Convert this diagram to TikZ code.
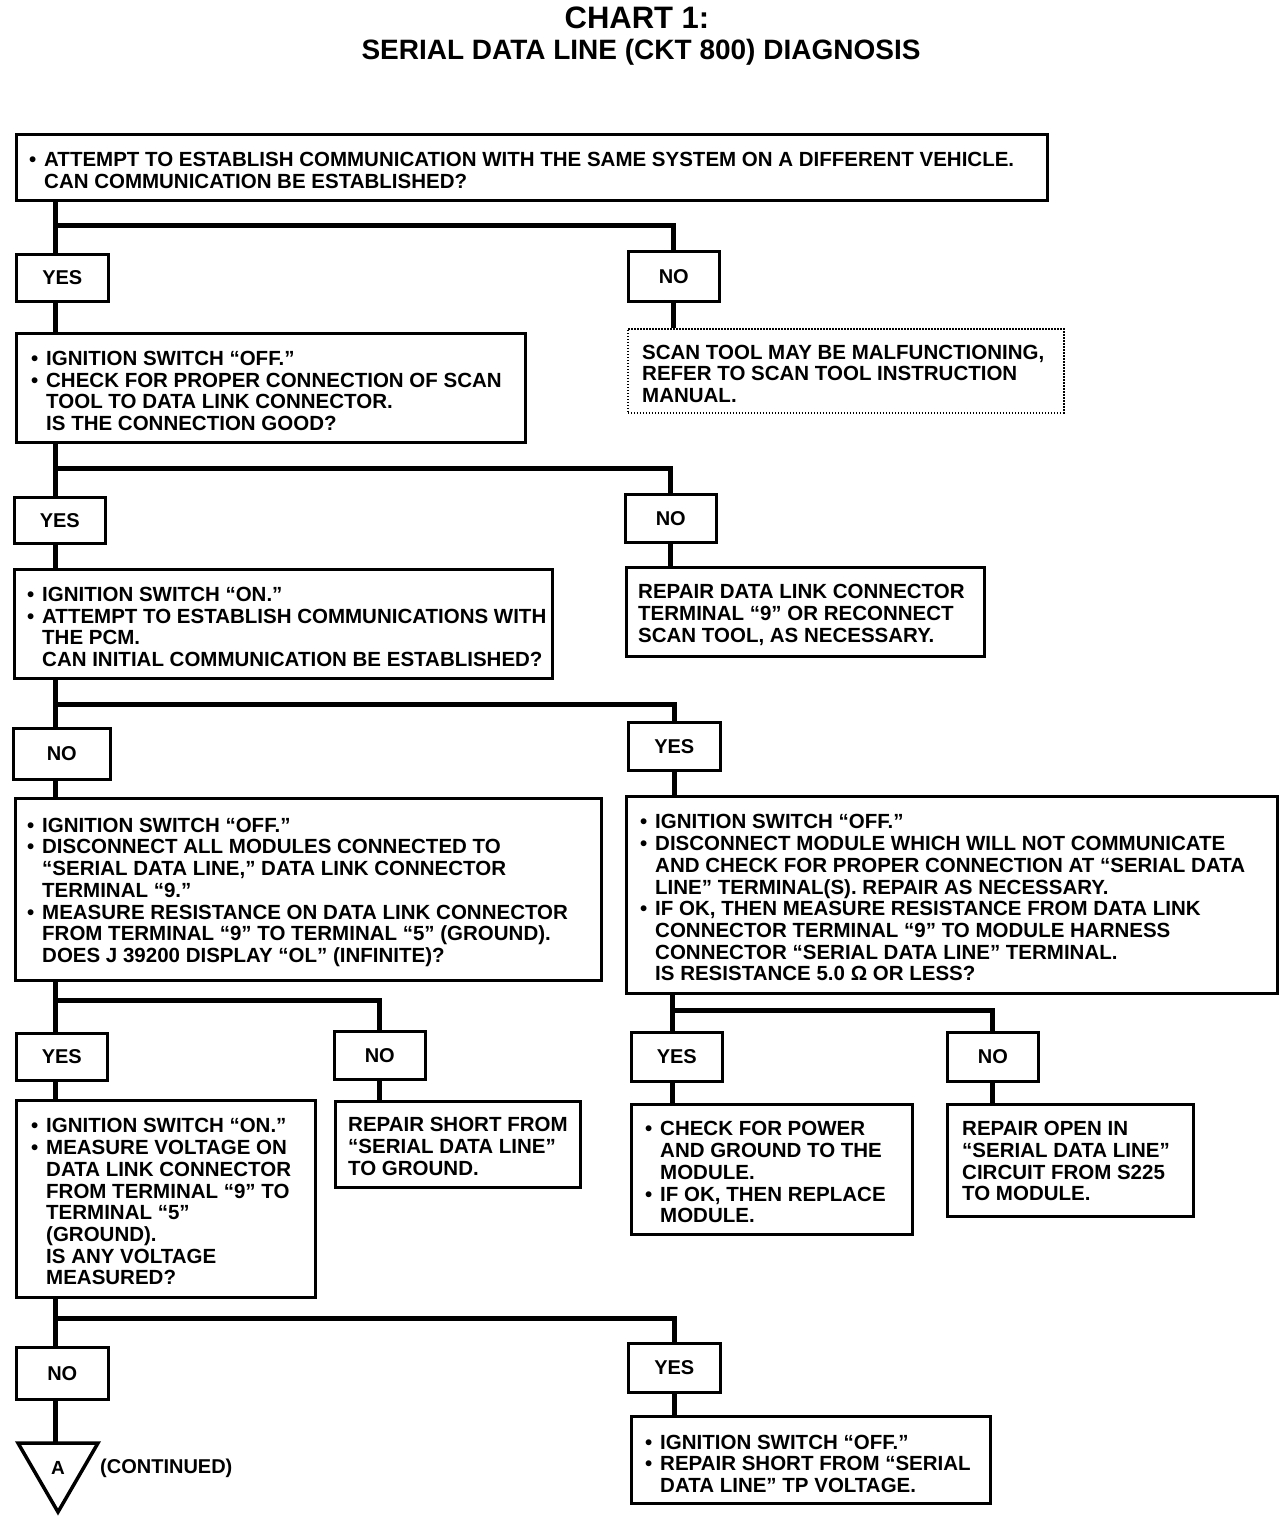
\documentclass[tikz,border=0pt]{standalone}
\usepackage{fontspec}
\setmainfont{Liberation Sans}
\usetikzlibrary{calc}
\newcommand\bl{\makebox[0pt][r]{\textbullet\hspace{8pt}}}
\begin{document}
\begin{tikzpicture}[x=1pt,y=-1pt,
  box/.style={draw, line width=2.6pt, anchor=north west, inner sep=0pt},
  lab/.style={box, font=\fontsize{20}{22}\selectfont\bfseries},
  tx/.style={anchor=west, align=left, inner sep=0pt, font=\fontsize{20.5}{21.7}\selectfont\bfseries},
  conn/.style={line width=5pt, line join=miter},
  dotbox/.style={draw, line width=1.5pt, dash pattern=on 1.6pt off 1.4pt, anchor=north west, inner sep=0pt},
  ttl/.style={inner sep=0pt, font=\bfseries}]
\useasboundingbox (0,0) rectangle (1280,1520);

% title
\node[ttl, font=\fontsize{31}{34}\selectfont\bfseries] (title1) at (637,18) {CHART 1:};
\node[ttl, font=\fontsize{28}{30}\selectfont\bfseries] (title2) at (641,52) {SERIAL DATA LINE (CKT 800) DIAGNOSIS};

% stage 1
\node[box, minimum width=1031pt, minimum height=66pt] (b1) at (15,133) {};
\node[tx] (t1) at ($(b1.west)+(29,3)$) {\bl ATTEMPT TO ESTABLISH COMMUNICATION WITH THE SAME SYSTEM ON A DIFFERENT VEHICLE.\\CAN COMMUNICATION BE ESTABLISHED?};
\node[lab, minimum width=92pt, minimum height=47pt] (y1) at (15,253) {YES};
\node[lab, minimum width=91pt, minimum height=50pt] (n1) at (627,250) {NO};
\node[dotbox, minimum width=436pt, minimum height=84pt] (d1) at (627,328) {};
\node[tx] (td1) at ($(d1.west)+(15,3)$) {SCAN TOOL MAY BE MALFUNCTIONING,\\REFER TO SCAN TOOL INSTRUCTION\\MANUAL.};

% stage 2
\node[box, minimum width=509pt, minimum height=109pt] (b2) at (15,332) {};
\node[tx] (t2) at ($(b2.west)+(31,3)$) {\bl IGNITION SWITCH “OFF.”\\\bl CHECK FOR PROPER CONNECTION OF SCAN\\TOOL TO DATA LINK CONNECTOR.\\IS THE CONNECTION GOOD?};
\node[lab, minimum width=91pt, minimum height=46pt] (y2) at (13,496) {YES};
\node[lab, minimum width=91pt, minimum height=48pt] (n2) at (624,493) {NO};
\node[box, minimum width=358pt, minimum height=89pt] (r2) at (625,566) {};
\node[tx] (tr2) at ($(r2.west)+(13,3)$) {REPAIR DATA LINK CONNECTOR\\TERMINAL “9” OR RECONNECT\\SCAN TOOL, AS NECESSARY.};

% stage 3
\node[box, minimum width=538pt, minimum height=109pt] (b3) at (13,568) {};
\node[tx] (t3) at ($(b3.west)+(29,3)$) {\bl IGNITION SWITCH “ON.”\\\bl ATTEMPT TO ESTABLISH COMMUNICATIONS WITH\\THE PCM.\\CAN INITIAL COMMUNICATION BE ESTABLISHED?};
\node[lab, minimum width=97pt, minimum height=51pt] (n3) at (12,727) {NO};
\node[lab, minimum width=92pt, minimum height=48pt] (y3) at (627,721) {YES};

% stage 4
\node[box, minimum width=586pt, minimum height=182pt] (b4) at (14,797) {};
\node[tx] (t4) at ($(b4.west)+(28,3)$) {\bl IGNITION SWITCH “OFF.”\\\bl DISCONNECT ALL MODULES CONNECTED TO\\“SERIAL DATA LINE,” DATA LINK CONNECTOR\\TERMINAL “9.”\\\bl MEASURE RESISTANCE ON DATA LINK CONNECTOR\\FROM TERMINAL “9” TO TERMINAL “5” (GROUND).\\DOES J 39200 DISPLAY “OL” (INFINITE)?};
\node[box, minimum width=651pt, minimum height=197pt] (b5) at (625,795) {};
\node[tx] (t5) at ($(b5.west)+(30,3)$) {\bl IGNITION SWITCH “OFF.”\\\bl DISCONNECT MODULE WHICH WILL NOT COMMUNICATE\\AND CHECK FOR PROPER CONNECTION AT “SERIAL DATA\\LINE” TERMINAL(S). REPAIR AS NECESSARY.\\\bl IF OK, THEN MEASURE RESISTANCE FROM DATA LINK\\CONNECTOR TERMINAL “9” TO MODULE HARNESS\\CONNECTOR “SERIAL DATA LINE” TERMINAL.\\IS RESISTANCE 5.0 Ω OR LESS?};

% stage 5 left
\node[lab, minimum width=91pt, minimum height=47pt] (y4) at (15,1032) {YES};
\node[lab, minimum width=91pt, minimum height=48pt] (n4) at (333,1030) {NO};
\node[box, minimum width=299pt, minimum height=197pt] (b6) at (15,1099) {};
\node[tx] (t6) at ($(b6.west)+(31,3)$) {\bl IGNITION SWITCH “ON.”\\\bl MEASURE VOLTAGE ON\\DATA LINK CONNECTOR\\FROM TERMINAL “9” TO\\TERMINAL “5”\\(GROUND).\\IS ANY VOLTAGE\\MEASURED?};
\node[box, minimum width=245pt, minimum height=86pt] (b7) at (334,1100) {};
\node[tx] (t7) at ($(b7.west)+(14,2)$) {REPAIR SHORT FROM\\“SERIAL DATA LINE”\\TO GROUND.};

% stage 5 right
\node[lab, minimum width=91pt, minimum height=49pt] (y5) at (630,1031) {YES};
\node[lab, minimum width=91pt, minimum height=49pt] (n5) at (946,1031) {NO};
\node[box, minimum width=281pt, minimum height=130pt] (b8) at (630,1103) {};
\node[tx] (t8) at ($(b8.west)+(30,3)$) {\bl CHECK FOR POWER\\AND GROUND TO THE\\MODULE.\\\bl IF OK, THEN REPLACE\\MODULE.};
\node[box, minimum width=246pt, minimum height=112pt] (b9) at (946,1103) {};
\node[tx] (t9) at ($(b9.west)+(16,1)$) {REPAIR OPEN IN\\“SERIAL DATA LINE”\\CIRCUIT FROM S225\\TO MODULE.};

% stage 6
\node[lab, minimum width=92pt, minimum height=52pt] (n6) at (15,1346) {NO};
\node[lab, minimum width=92pt, minimum height=49pt] (y6) at (627,1342) {YES};
\node[box, minimum width=359pt, minimum height=87pt] (b10) at (630,1415) {};
\node[tx] (t10) at ($(b10.west)+(30,4)$) {\bl IGNITION SWITCH “OFF.”\\\bl REPAIR SHORT FROM “SERIAL\\DATA LINE” TP VOLTAGE.};

% continuation triangle
\coordinate (tri) at (58,1443);
\draw[line width=3.5pt, line join=miter] (18,1443) -- (98,1443) -- (58,1512) -- cycle;
\node[inner sep=0pt, font=\fontsize{19}{20}\selectfont\bfseries] (tA) at (58,1468) {A};
\node[inner sep=0pt, anchor=west, font=\fontsize{20}{22}\selectfont\bfseries] (cont) at (100,1468) {(CONTINUED)};

% connectors
\coordinate (j1) at (55,225);
\draw[conn] (b1.south -| j1) -- (y1.north -| j1);
\draw[conn] (j1) -| (n1.north);
\draw[conn] (y1.south -| j1) -- (b2.north -| j1);
\draw[conn] (n1.south) -- (d1.north -| n1.south);

\coordinate (j2) at (55,468);
\draw[conn] (b2.south -| j2) -- (y2.north -| j2);
\draw[conn] (j2) -| (n2.north);
\draw[conn] (y2.south -| j2) -- (b3.north -| j2);
\draw[conn] (n2.south) -- (r2.north -| n2.south);

\coordinate (j3) at (55,704);
\draw[conn] (b3.south -| j3) -- (n3.north -| j3);
\draw[conn] (j3) -| (y3.north);
\draw[conn] (n3.south -| j3) -- (b4.north -| j3);
\draw[conn] (y3.south) -- (b5.north -| y3.south);

\coordinate (j4) at (55,1000);
\draw[conn] (b4.south -| j4) -- (y4.north -| j4);
\draw[conn] (j4) -| (n4.north);
\draw[conn] (y4.south -| j4) -- (b6.north -| j4);
\draw[conn] (n4.south) -- (b7.north -| n4.south);

\coordinate (j5) at (672,1010);
\draw[conn] (b5.south -| j5) -- (y5.north -| j5);
\draw[conn] (j5) -| (n5.north);
\draw[conn] (y5.south -| j5) -- (b8.north -| j5);
\draw[conn] (n5.south) -- (b9.north -| n5.south);

\coordinate (j6) at (55,1318);
\draw[conn] (b6.south -| j6) -- (n6.north -| j6);
\draw[conn] (j6) -| (y6.north);
\draw[conn] (n6.south -| j6) -- (tri -| j6);
\draw[conn] (y6.south) -- (b10.north -| y6.south);
\end{tikzpicture}
\end{document}
